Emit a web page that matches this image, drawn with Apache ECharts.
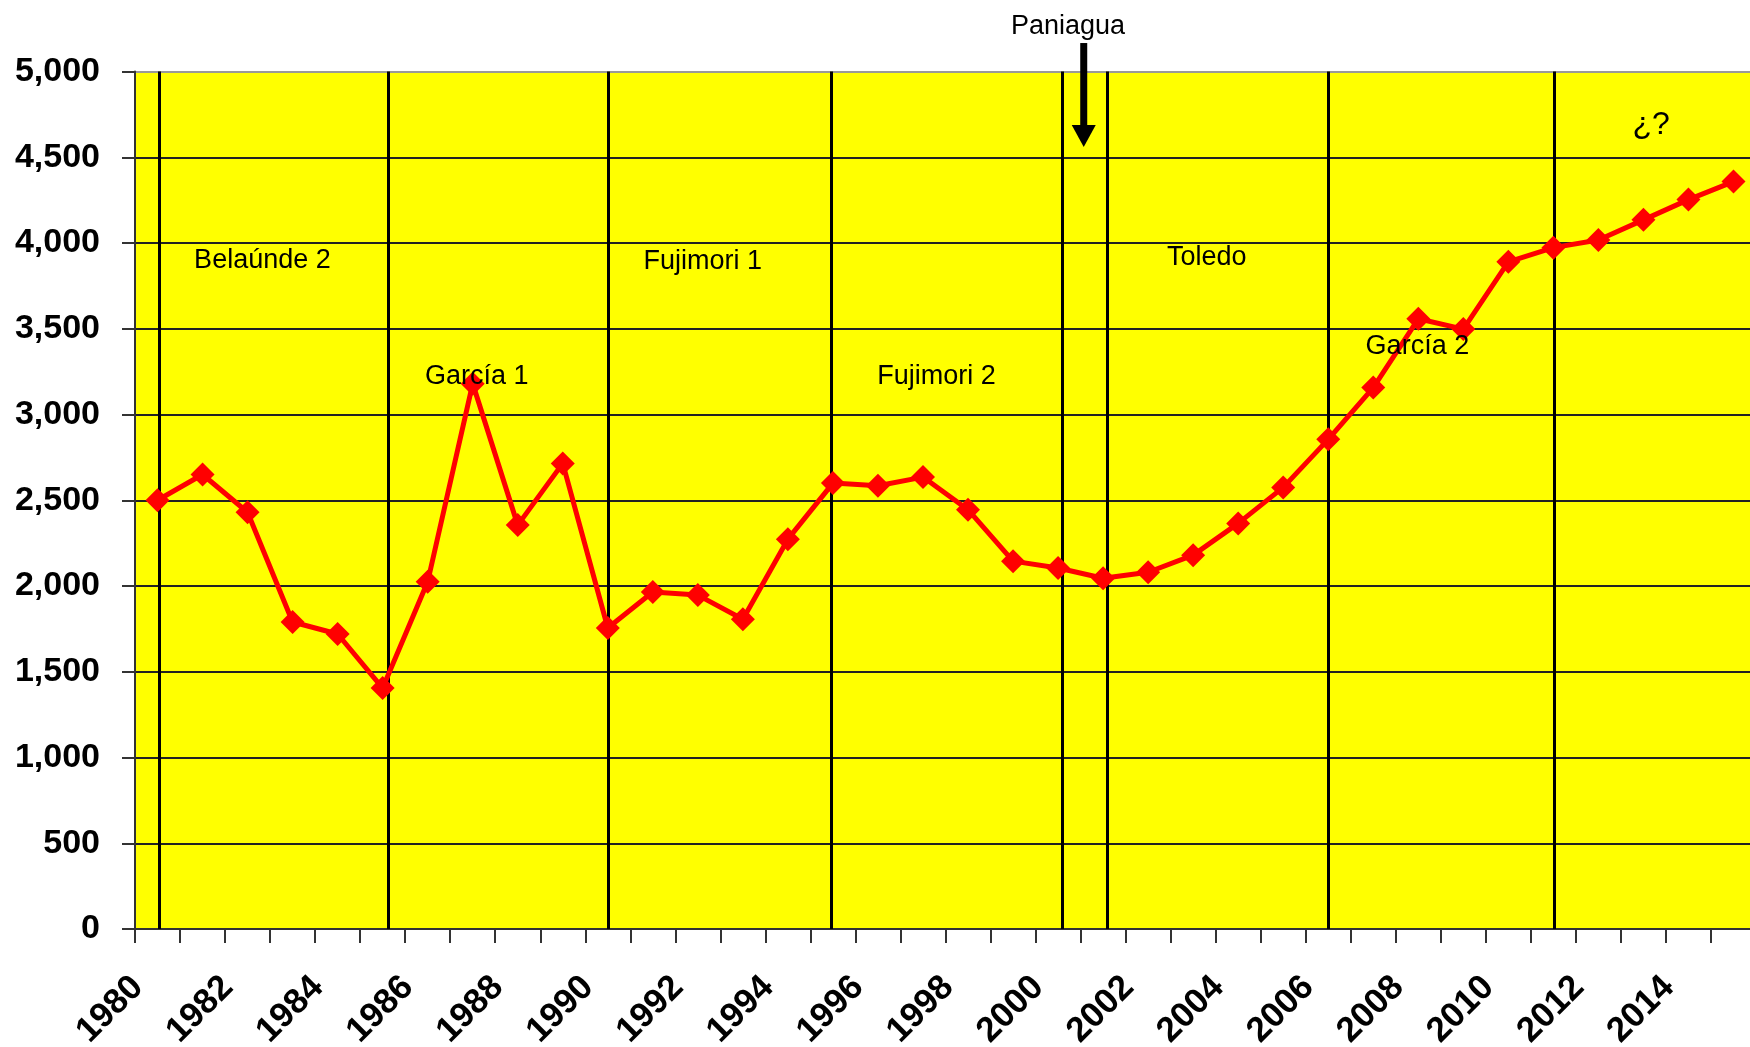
<!DOCTYPE html>
<html>
<head>
<meta charset="utf-8">
<script src="https://cdn.jsdelivr.net/npm/echarts@6/dist/echarts.min.js"></script>
<style>
	html, body { margin: 0; padding: 0; background: #fff; }
	#chart { width: 1750px; height: 1047px; }
</style>
</head>
<body>
<div id="chart"></div>
<script>
let years = ['1980', '1981', '1982', '1983', '1984', '1985', '1986', '1987', '1988', '1989',
	'1990', '1991', '1992', '1993', '1994', '1995', '1996', '1997', '1998', '1999',
	'2000', '2001', '2002', '2003', '2004', '2005', '2006', '2007', '2008', '2009',
	'2010', '2011', '2012', '2013', '2014', '2015'];
let values = [2500, 2650, 2430, 1790, 1720, 1405, 2025, 3180, 2355, 2715,
	1755, 1965, 1947, 1806, 2273, 2600, 2585, 2635, 2445, 2145,
	2105, 2045, 2080, 2180, 2365, 2575, 2855, 3157, 3558, 3498,
	3890, 3973, 4018, 4135, 4253, 4358];
// start of each government term (fractional year)
let termLines = [1980.03, 1985.12, 1990.0, 1994.97, 2000.09, 2001.09, 2005.99, 2011.03];
// term labels: [text, year, value, size]
let termLabels = [
	['Belaúnde 2', 1982.33, 3895, 27],
	['García 1', 1987.09, 3219, 27],
	['Fujimori 1', 1992.11, 3889, 27],
	['Fujimori 2', 1997.30, 3219, 27],
	['Toledo', 2003.30, 3913, 27],
	['García 2', 2007.98, 3399, 27],
	['¿?', 2013.17, 4688, 32],
	['Paniagua', 2000.22, 5262, 27],
];
let arrowYear = 2000.57;
let arrowFrom = 5166;
let arrowTo = 4560;

let font = '"Liberation Sans", Arial, sans-serif';
let chart = echarts.init(document.getElementById('chart'));

chart.setOption({
	animation: false,
	grid: {
		left: 135,
		top: 71.5,
		right: -6,
		bottom: 118,
		outerBoundsMode: 'none',
		show: true,
		backgroundColor: '#ffff00',
		borderWidth: 0,
	},
	xAxis: [
		{
			type: 'category',
			data: years,
			boundaryGap: true,
			axisLine: {lineStyle: {color: '#333', width: 2}},
			axisTick: {show: true, length: 14, interval: 0, lineStyle: {color: '#333', width: 2}},
			axisLabel: {
				interval: 1,
				rotate: 45,
				margin: 33,
				padding: [0, 28, 0, 0],
				color: '#000',
				fontFamily: font,
				fontWeight: 'bold',
				fontSize: 35,
			},
			splitLine: {show: false},
		},
		{
			type: 'value',
			min: 1979.5,
			max: 2015.5,
			show: false,
			splitLine: {show: false},
		},
	],
	yAxis: {
		type: 'value',
		min: 0,
		max: 5000,
		interval: 500,
		axisLine: {show: true, lineStyle: {color: '#333', width: 2}},
		axisTick: {show: true, length: 13, lineStyle: {color: '#333', width: 2}},
		axisLabel: {
			margin: 35,
			color: '#000',
			fontFamily: font,
			fontWeight: 'bold',
			fontSize: 34,
			formatter: (v) => v.toLocaleString('en-US'),
		},
		splitLine: {
			lineStyle: {
				color: ['#222', '#222', '#222', '#222', '#222', '#222', '#222', '#222', '#222', '#222', '#999'],
				width: 2,
			},
		},
	},
	series: [
		{
			type: 'line',
			data: values,
			z: 5,
			symbol: 'diamond',
			symbolSize: 24,
			itemStyle: {color: '#ff0000'},
			lineStyle: {color: '#ff0000', width: 5},
		},
		{
			type: 'line',
			xAxisIndex: 1,
			data: [],
			z: 3,
			markLine: {
				silent: true,
				symbol: 'none',
				label: {show: false},
				lineStyle: {color: '#000', width: 3, type: 'solid'},
				data: termLines.map((y) => ({xAxis: y})),
			},
		},
	],
});

let px = (year, value) => chart.convertToPixel({seriesIndex: 1}, [year, value]);
let graphics = termLabels.map(([text, year, value, size]) => {
	let [x, y] = px(year, value);
	return {
		type: 'text',
		x, y,
		z: 10,
		style: {
			text,
			font: size + 'px ' + font,
			fill: '#000',
			align: 'center',
			verticalAlign: 'middle',
		},
	};
});
let [ax, ay1] = px(arrowYear, arrowFrom);
let [, ay2] = px(arrowYear, arrowTo);
graphics.push({
	type: 'line',
	z: 10,
	shape: {x1: ax, y1: ay1, x2: ax, y2: ay2 - 18},
	style: {stroke: '#000', lineWidth: 7},
});
graphics.push({
	type: 'polygon',
	z: 10,
	shape: {points: [[ax - 12, ay2 - 22], [ax + 12, ay2 - 22], [ax, ay2]]},
	style: {fill: '#000'},
});
chart.setOption({graphic: graphics});
</script>
</body>
</html>
